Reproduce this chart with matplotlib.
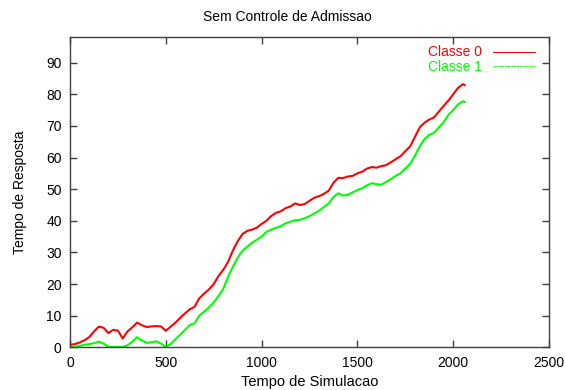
import matplotlib
matplotlib.use("Agg")
import matplotlib.pyplot as plt
from matplotlib.lines import Line2D

# simulated time (sampled every 25 units) and response time per class
tempo = list(range(0, 2051, 25)) + [2060]

classe0 = [0.8, 1.0, 1.5, 2.2, 3.2, 5.0, 6.5, 6.2, 4.5, 5.5, 5.3, 2.8, 5.0, 6.3, 7.8, 7.0,
           6.4, 6.6, 6.7, 6.6, 5.2, 6.5, 7.8, 9.3, 10.7, 12.0, 12.8, 15.5, 17.0, 18.3, 20.0,
           22.5, 24.5, 27.0, 30.6, 33.5, 35.8, 36.8, 37.2, 37.8, 39.0, 40.0, 41.5, 42.5,
           43.0, 44.0, 44.5, 45.5, 45.0, 45.3, 46.3, 47.3, 47.8, 48.5, 49.5, 52.0, 53.6,
           53.5, 54.0, 54.2, 55.0, 55.5, 56.5, 57.0, 56.8, 57.3, 57.6, 58.5, 59.5, 60.4,
           62.0, 63.5, 66.5, 69.5, 71.0, 72.0, 72.7, 74.5, 76.3, 78.0, 80.0, 82.0, 83.2, 82.9]

classe1 = [0.3, 0.2, 0.4, 0.8, 1.0, 1.3, 1.8, 1.2, 0.2, 0.1, 0.1, 0.1, 0.6, 1.8, 3.2, 2.2,
           1.4, 1.6, 1.9, 1.2, 0.1, 1.0, 2.5, 4.0, 5.5, 7.0, 7.6, 10.0, 11.3, 12.6, 14.2,
           16.2, 18.5, 22.3, 25.5, 28.3, 30.5, 31.8, 33.0, 34.0, 35.0, 36.5, 37.2, 37.8,
           38.3, 39.2, 39.7, 40.2, 40.3, 40.8, 41.5, 42.3, 43.2, 44.3, 45.5, 47.5, 48.7,
           48.0, 48.2, 49.0, 49.7, 50.3, 51.2, 51.9, 51.6, 51.4, 52.3, 53.2, 54.2, 55.0,
           56.5, 58.0, 60.5, 63.5, 65.8, 67.2, 67.8, 69.5, 71.2, 73.5, 75.0, 76.8, 77.8, 77.6]

xticks = [0, 500, 1000, 1500, 2000, 2500]
yticks = [0, 10, 20, 30, 40, 50, 60, 70, 80, 90]

plt.rcParams["font.family"] = ["Liberation Sans", "DejaVu Sans"]

fig = plt.figure(figsize=(5.65, 3.9), dpi=100, facecolor="white")
ax = fig.add_axes([0.1239, 0.1095, 0.8478, 0.7955])

ax.plot(tempo, classe0, color="#ff0000", linewidth=1.5)
ax.plot(tempo, classe1, color="#00ff00", linewidth=1.5)

ax.set_xlim(0, 2500)
ax.set_ylim(0, 98.1)
ax.set_xticks(xticks)
ax.set_yticks(yticks)
ax.tick_params(direction="in", length=5, width=1, color="#404040",
               top=True, right=True, labelsize=10, pad=6)
for s in ax.spines.values():
    s.set_color("#404040")
    s.set_linewidth(1)

fig.text(287 / 565, 1 - 17 / 390, "Sem Controle de Admissao", fontsize=10,
         ha="center", va="center")
ax.set_xlabel("Tempo de Simulacao", fontsize=10.5, labelpad=4)
ax.set_ylabel("Tempo de Resposta", fontsize=10, labelpad=14)

handles = [Line2D([], [], color="#ff0000", linewidth=0.7),
           Line2D([], [], color="#00ff00", linewidth=0.7, linestyle=(0, (2, 1)))]
ax.legend(handles, ["Classe 0", "Classe 1"], loc="upper right", frameon=False,
          markerfirst=False, fontsize=10, labelcolor=["#ff0000", "#00ff00"],
          handlelength=3.0, handletextpad=0.8, labelspacing=0.05,
          borderaxespad=0.2, bbox_to_anchor=(0.9875, 1.0))

fig.savefig("out.png", dpi=100, facecolor="white")
